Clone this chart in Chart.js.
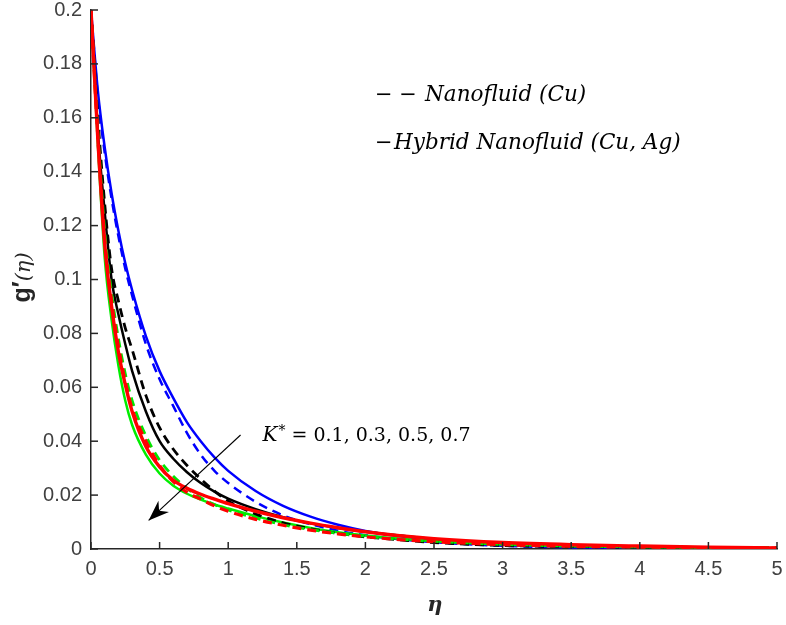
<!DOCTYPE html>
<html>
<head>
<meta charset="utf-8">
<script src="https://cdn.jsdelivr.net/npm/chart.js@4"></script>
<style>
html,body{margin:0;padding:0;background:#fff;}
#wrap{width:786px;height:625px;}
</style>
</head>
<body>
<div id="wrap"><canvas id="c" width="786" height="625"></canvas></div>
<script>
// eta grid
const eta = [0,0.05,0.1,0.15,0.2,0.25,0.3,0.4,0.5,0.6,0.7,0.8,0.9,1.0,1.2,1.4,1.6,1.8,2.0,2.25,2.5,3,3.5,4,4.5,5];
// K* = 0.1 (blue), 0.3 (black), 0.5 (red), 0.7 (green); solid = hybrid nanofluid, dashed = nanofluid
const blueSolid   = [0.2,0.17,0.149,0.132,0.118,0.106,0.096,0.079,0.066,0.056,0.047,0.040,0.034,0.029,0.0215,0.016,0.012,0.009,0.0067,0.0047,0.0033,0.0016,0.0008,0.0004,0.0002,0.0001];
const blueDashed  = [0.2,0.168,0.147,0.13,0.116,0.104,0.094,0.076,0.063,0.053,0.043,0.035,0.029,0.0245,0.0175,0.0125,0.0092,0.0068,0.0051,0.0036,0.0025,0.0012,0.0006,0.0003,0.0001,0];
const blackSolid  = [0.2,0.155,0.125,0.1,0.087,0.076,0.066,0.051,0.040,0.0335,0.0285,0.0245,0.0213,0.0187,0.0148,0.0118,0.0095,0.0078,0.0064,0.0050,0.0037,0.002,0.0011,0.0006,0.0004,0.0002];
const blackDashed = [0.2,0.16,0.128,0.104,0.092,0.082,0.074,0.057,0.045,0.037,0.031,0.026,0.0215,0.0178,0.013,0.0097,0.0075,0.0058,0.0045,0.0034,0.0024,0.0013,0.0009,0.0007,0.0006,0.0005];
const redSolid    = [0.2,0.152,0.113,0.09,0.073,0.061,0.051,0.038,0.0305,0.0255,0.0225,0.0203,0.0185,0.0168,0.014,0.0116,0.0096,0.0079,0.0064,0.0049,0.0038,0.0024,0.0016,0.0011,0.0007,0.0004];
const redDashed   = [0.2,0.153,0.115,0.092,0.075,0.062,0.052,0.04,0.031,0.025,0.021,0.0185,0.016,0.014,0.011,0.0088,0.007,0.0056,0.0045,0.0035,0.0027,0.0016,0.001,0.0007,0.0005,0.0003];
const greenSolid  = [0.2,0.15,0.108,0.085,0.068,0.055,0.046,0.035,0.028,0.0235,0.0205,0.0183,0.0165,0.015,0.0122,0.0098,0.0078,0.0062,0.005,0.0038,0.0029,0.0017,0.001,0.0007,0.0005,0.0003];
const greenDashed = [0.2,0.155,0.118,0.095,0.078,0.065,0.055,0.042,0.033,0.027,0.0225,0.019,0.0165,0.0145,0.0115,0.009,0.0072,0.0058,0.0047,0.0036,0.0028,0.0017,0.0011,0.0008,0.0006,0.0005];

const xTicks = [0,0.5,1,1.5,2,2.5,3,3.5,4,4.5,5];
const yTicks = [0,0.02,0.04,0.06,0.08,0.1,0.12,0.14,0.16,0.18,0.2];
const legendLabels = ['Nanofluid (Cu)', 'Hybrid Nanofluid (Cu, Ag)'];
const kLabel = ' = 0.1, 0.3, 0.5, 0.7';
// annotation anchor points in data units
const arrowFrom = {x:1.09, y:0.0423};
const arrowTo = {x:0.42, y:0.0106};
const kTextAt = {x:1.25, y:0.0400};
const legendAt = [{x:2.07, y:0.1663},{x:2.07, y:0.1483}];

const pts = arr => arr.map((v,i)=>({x:eta[i], y:v}));
const mk = (data, color, dashed, w) => ({
  data: pts(data), borderColor: color, borderWidth: w||2.5,
  borderDash: dashed ? [9,6] : [], pointRadius: 0, fill: false,
  cubicInterpolationMode: 'monotone'
});

const serif = '"DejaVu Serif", "Liberation Serif", serif';
const sans = '"Liberation Sans", Arial, sans-serif';

const overlay = {
  id: 'overlay',
  afterDraw(chart){
    const {ctx, chartArea, scales:{x, y}} = chart;
    ctx.save();
    // inward ticks
    ctx.strokeStyle = '#262626'; ctx.lineWidth = 1.5;
    xTicks.forEach(t => {
      const px = x.getPixelForValue(t);
      ctx.beginPath(); ctx.moveTo(px, chartArea.bottom); ctx.lineTo(px, chartArea.bottom-7); ctx.stroke();
    });
    yTicks.forEach(t => {
      const py = y.getPixelForValue(t);
      ctx.beginPath(); ctx.moveTo(chartArea.left, py); ctx.lineTo(chartArea.left+7, py); ctx.stroke();
    });
    // legend text
    ctx.fillStyle = '#000'; ctx.textBaseline = 'alphabetic';
    const l1x = x.getPixelForValue(legendAt[0].x), l1y = y.getPixelForValue(legendAt[0].y);
    const l2x = x.getPixelForValue(legendAt[1].x), l2y = y.getPixelForValue(legendAt[1].y);
    ctx.font = '21px ' + serif;
    ctx.fillText('\u2212 \u2212', l1x, l1y);
    ctx.fillText('\u2212', l2x, l2y);
    ctx.font = 'italic 21.5px ' + serif;
    ctx.fillText(legendLabels[0], l1x + 50, l1y);
    ctx.fillText(legendLabels[1], l2x + 19, l2y);
    // K* annotation
    const kx = x.getPixelForValue(kTextAt.x), ky = y.getPixelForValue(kTextAt.y);
    ctx.font = 'italic 20px ' + serif;
    ctx.fillText('K', kx, ky);
    let w = ctx.measureText('K').width;
    ctx.font = '14px ' + serif;
    ctx.fillText('*', kx + w + 1, ky - 6);
    w += ctx.measureText('*').width + 1;
    ctx.font = '19px ' + serif;
    ctx.fillText(kLabel, kx + w, ky);
    // arrow
    const ax1 = x.getPixelForValue(arrowFrom.x), ay1 = y.getPixelForValue(arrowFrom.y);
    const ax2 = x.getPixelForValue(arrowTo.x), ay2 = y.getPixelForValue(arrowTo.y);
    ctx.strokeStyle = '#000'; ctx.lineWidth = 1.1;
    ctx.beginPath(); ctx.moveTo(ax1, ay1); ctx.lineTo(ax2, ay2); ctx.stroke();
    const ang = Math.atan2(ay2-ay1, ax2-ax1);
    const L = 22, half = 0.36;
    ctx.beginPath();
    ctx.moveTo(ax2, ay2);
    ctx.lineTo(ax2 - L*Math.cos(ang-half), ay2 - L*Math.sin(ang-half));
    ctx.lineTo(ax2 - 0.65*L*Math.cos(ang), ay2 - 0.65*L*Math.sin(ang));
    ctx.lineTo(ax2 - L*Math.cos(ang+half), ay2 - L*Math.sin(ang+half));
    ctx.closePath(); ctx.fill();
    // axis titles
    ctx.fillStyle = '#262626';
    ctx.save();
    ctx.translate(30, (chartArea.top + chartArea.bottom)/2 - 2);
    ctx.rotate(-Math.PI/2);
    ctx.font = 'bold 25px ' + sans;
    const gw = ctx.measureText('g\u2032').width;
    ctx.font = 'italic 21px ' + serif;
    const ew = ctx.measureText('(\u03B7)').width;
    const tot = gw + ew;
    ctx.font = 'bold 25px ' + sans;
    ctx.fillText('g\u2032', -tot/2, 0);
    ctx.font = 'italic 21px ' + serif;
    ctx.fillText('(\u03B7)', -tot/2 + gw, 0);
    ctx.restore();
    ctx.font = 'bold italic 21px ' + serif;
    ctx.textAlign = 'center';
    ctx.fillText('\u03B7', (chartArea.left+chartArea.right)/2 + 1, 611);
    ctx.restore();
  }
};

const fmt = v => String(Number(v.toFixed(3)));

new Chart(document.getElementById('c'), {
  type: 'line',
  data: {
    datasets: [
      mk(redSolid, '#ff0000', false, 3.4),
      mk(redDashed, '#ff0000', true, 3.2),
      mk(greenDashed, '#00e600', true, 2.8),
      mk(blackDashed, '#000000', true, 2.8),
      mk(greenSolid, '#00ee00', false, 2.5),
      mk(blackSolid, '#000000', false, 2.5),
      mk(blueDashed, '#0000ff', true, 2.5),
      mk(blueSolid, '#0000ff', false, 2.5)
    ]
  },
  options: {
    responsive: false,
    animation: false,
    layout: { padding: { top: 10, right: 9, left: 0, bottom: 0 } },
    plugins: { legend: { display: false }, tooltip: { enabled: false } },
    scales: {
      x: {
        type: 'linear', min: 0, max: 5,
        afterFit(s){ s.height = 76; s.paddingLeft = 0; s.paddingRight = 0; },
        afterBuildTicks(s){ s.ticks = xTicks.map(v => ({value: v})); },
        ticks: { color: '#404040', font: { size: 20, family: sans }, padding: 8, maxRotation: 0, callback: v => fmt(v) },
        grid: { display: true, drawOnChartArea: false, drawTicks: false },
        border: { display: true, color: '#262626', width: 1.5 }
      },
      y: {
        type: 'linear', min: 0, max: 0.2,
        afterFit(s){ s.width = 91; s.paddingTop = 0; s.paddingBottom = 0; },
        afterBuildTicks(s){ s.ticks = yTicks.map(v => ({value: v})); },
        ticks: { color: '#404040', font: { size: 20, family: sans }, padding: 9, callback: v => fmt(v) },
        grid: { display: true, drawOnChartArea: false, drawTicks: false },
        border: { display: true, color: '#262626', width: 1.5 }
      }
    }
  },
  plugins: [overlay]
});
</script>
</body>
</html>
